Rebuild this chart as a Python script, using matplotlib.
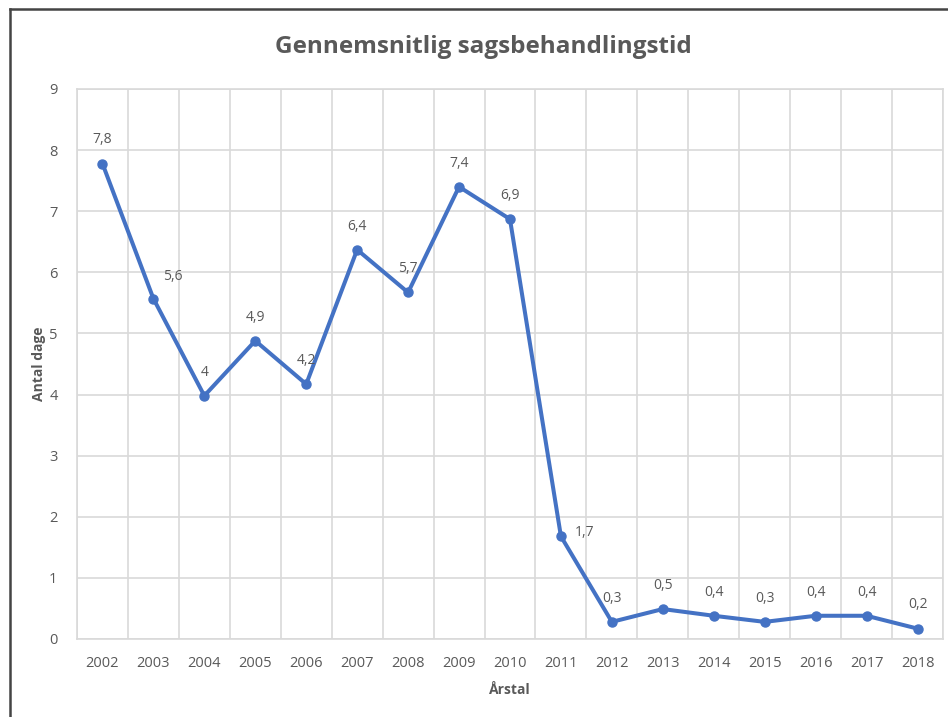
import matplotlib.pyplot as plt
from matplotlib.lines import Line2D

years = ['2002', '2003', '2004', '2005', '2006', '2007', '2008', '2009', '2010',
         '2011', '2012', '2013', '2014', '2015', '2016', '2017', '2018']
days = [7.78, 5.57, 3.98, 4.88, 4.17, 6.37, 5.67, 7.40, 6.87,
        1.68, 0.28, 0.49, 0.38, 0.28, 0.38, 0.38, 0.17]
labels = ['7,8', '5,6', '4', '4,9', '4,2', '6,4', '5,7', '7,4', '6,9',
          '1,7', '0,3', '0,5', '0,4', '0,3', '0,4', '0,4', '0,2']

plt.rcParams['font.family'] = ['Open Sans', 'DejaVu Sans']
grey = '#595959'

fig = plt.figure(figsize=(9.48, 7.17), dpi=100)
ax = fig.add_axes([0.0812, 0.1088, 0.9135, 0.7671])

x = list(range(len(years)))
ax.plot(x, days, color='#4472C4', linewidth=2.9, marker='o', markersize=6.5,
        solid_joinstyle='round', zorder=3)

# most labels sit above the point, two were moved to the side
for i, (v, lab) in enumerate(zip(days, labels)):
    if lab == '5,6':
        off = (14, 16)
    elif lab == '1,7':
        off = (17, 3)
    else:
        off = (0, 17)
    ax.annotate(lab, (i, v), xytext=off, textcoords='offset points',
                ha='center', va='center', fontsize=10, color=grey)

ax.set_xlim(-0.5, len(years) - 0.5)
ax.set_ylim(0, 9)
ax.set_yticks(range(0, 10))
ax.set_xticks(x)
ax.set_xticklabels(years)
ax.set_xticks([i - 0.5 for i in range(len(years) + 1)], minor=True)
ax.grid(False)
ax.grid(True, which='minor', axis='x', color='#d9d9d9', linewidth=1.2)
ax.grid(True, which='major', axis='y', color='#d9d9d9', linewidth=1.2)
ax.set_axisbelow(True)
ax.tick_params(which='both', length=0)
ax.tick_params(axis='y', pad=14, labelsize=10.5, labelcolor=grey)
ax.tick_params(axis='x', pad=12, labelsize=10.5, labelcolor=grey)
for s in ax.spines.values():
    s.set_color('#d9d9d9')
    s.set_linewidth(1.2)

ax.set_xlabel('Årstal', fontsize=10, fontweight='bold', color=grey, labelpad=9)
ax.set_ylabel('Antal dage', fontsize=10, fontweight='bold', color=grey, labelpad=2)
fig.text(0.51, 0.935, 'Gennemsnitlig sagsbehandlingstid', ha='center', va='center',
         fontsize=17.5, fontweight='bold', color=grey)

fig.add_artist(Line2D([0.0105, 1.0], [0.987, 0.987], color='#444444', linewidth=1.8))
fig.add_artist(Line2D([0.0105, 0.0105], [0.0, 0.987], color='#444444', linewidth=1.8))

fig.savefig('out.png', dpi=100)
